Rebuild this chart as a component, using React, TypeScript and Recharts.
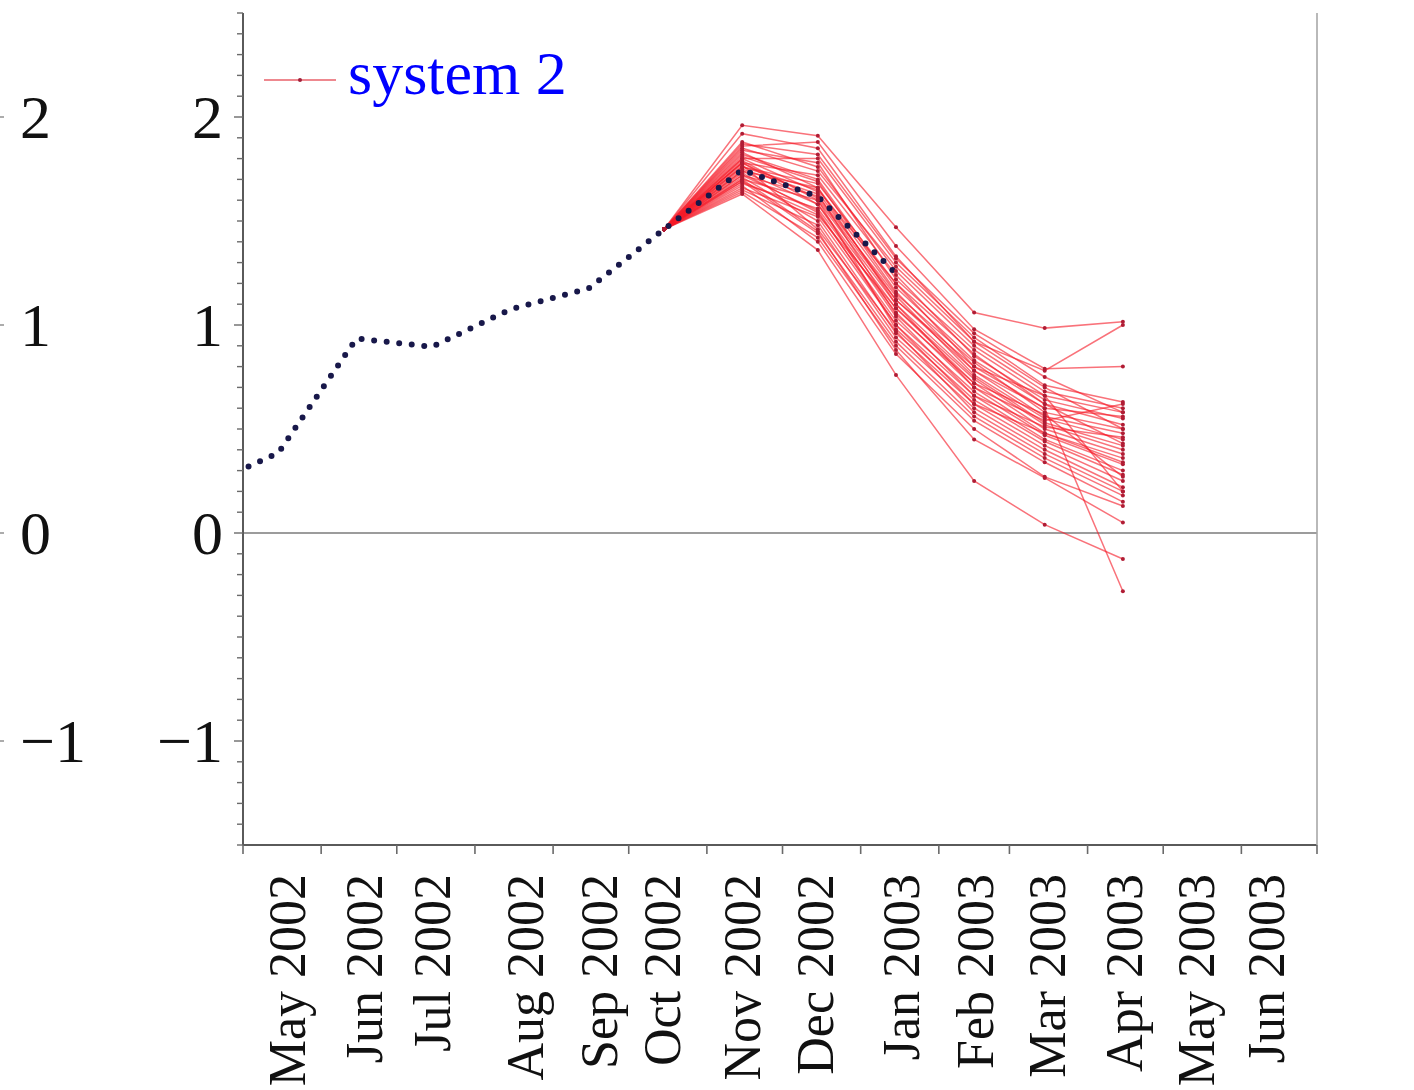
import React from 'react';
import { LineChart, Line, XAxis, YAxis, ReferenceLine, Legend } from 'recharts';

// Time axis: days counted from 1 May 2002
const monthStartDays = [0, 31, 61, 92, 123, 153, 184, 214, 245, 276, 304, 335, 365, 396, 426];
const monthLabels = [
  'May 2002', 'Jun 2002', 'Jul 2002', 'Aug 2002', 'Sep 2002', 'Oct 2002', 'Nov 2002',
  'Dec 2002', 'Jan 2003', 'Feb 2003', 'Mar 2003', 'Apr 2003', 'May 2003', 'Jun 2003',
];
const monthLabelDays = [17.5, 48, 75, 112, 141.5, 166.5, 198, 227, 261, 290.5, 319, 349.5, 378, 406];

// Observed index (mid-month values)
const obsDays = [-16, 14, 45, 75, 106, 137, 167, 198, 228, 259];
const obsValues = [0.22, 0.385, 0.935, 0.895, 1.075, 1.175, 1.46, 1.745, 1.617, 1.248];

// Ensemble forecasts issued from the October value: Nov, Dec, Jan, Feb, Mar, Apr
const forecastStartDay = 167;
const forecastStartValue = 1.46;
const forecastDays = [198, 228, 259, 290, 318, 349];
const members: number[][] = [
  [1.96, 1.91, 1.47, 1.06, 0.985, 1.016],
  [1.86, 1.88, 1.38, 0.98, 0.79, 0.8],
  [1.92, 1.85, 1.33, 0.92, 0.78, 1.0],
  [1.8, 1.8, 1.3, 0.94, 0.71, 0.63],
  [1.88, 1.76, 1.26, 0.9, 0.68, 0.6],
  [1.84, 1.78, 1.22, 0.88, 0.66, 0.58],
  [1.78, 1.72, 1.24, 0.85, 0.64, 0.55],
  [1.82, 1.7, 1.18, 0.83, 0.62, 0.52],
  [1.76, 1.68, 1.2, 0.8, 0.6, -0.28],
  [1.74, 1.66, 1.15, 0.82, 0.58, 0.5],
  [1.8, 1.64, 1.12, 0.78, 0.56, 0.48],
  [1.72, 1.62, 1.14, 0.76, 0.55, 0.45],
  [1.7, 1.6, 1.1, 0.75, 0.53, 0.42],
  [1.78, 1.58, 1.08, 0.74, 0.52, 0.4],
  [1.75, 1.63, 1.05, 0.72, 0.5, 0.38],
  [1.68, 1.56, 1.06, 0.7, 0.48, 0.36],
  [1.73, 1.54, 1.02, 0.68, 0.47, 0.33],
  [1.66, 1.52, 1.0, 0.66, 0.45, 0.3],
  [1.79, 1.6, 0.98, 0.64, 0.44, 0.28],
  [1.71, 1.5, 0.96, 0.62, 0.42, 0.25],
  [1.65, 1.48, 0.94, 0.6, 0.4, 0.22],
  [1.77, 1.46, 0.97, 0.58, 0.38, 0.2],
  [1.69, 1.44, 0.92, 0.56, 0.36, 0.18],
  [1.64, 1.42, 0.9, 0.54, 0.34, 0.15],
  [1.83, 1.66, 1.1, 0.7, 0.54, 0.62],
  [1.81, 1.69, 1.16, 0.78, 0.6, 0.56],
  [1.74, 1.58, 1.04, 0.66, 0.51, 0.46],
  [1.67, 1.4, 0.86, 0.5, 0.27, 0.13],
  [1.63, 1.36, 0.76, 0.25, 0.04, -0.125],
  [1.7, 1.45, 0.88, 0.45, 0.265, 0.05],
  [1.85, 1.74, 1.28, 0.92, 0.7, 0.5],
  [1.76, 1.65, 1.2, 0.86, 0.62, 0.43],
  [1.72, 1.55, 1.0, 0.62, 0.48, 0.34],
  [1.87, 1.82, 1.32, 0.96, 0.75, 0.58],
  [1.69, 1.53, 1.08, 0.72, 0.57, 0.27],
  [1.78, 1.61, 1.12, 0.8, 0.66, 0.2],
];

const majorYTicks = [-1, 0, 1, 2];
const yDomain: [number, number] = [-1.5, 2.5];
const minorYTicks = Array.from({ length: 41 }, (_, i) => Math.round((-1.5 + i * 0.1) * 10) / 10);

const SERIF = '"Liberation Serif", "Times New Roman", serif';

const obsRows = obsDays.map((day, i) => ({ day, value: obsValues[i] }));
const memberRows = members.map((vals) => [
  { day: forecastStartDay, value: forecastStartValue },
  ...forecastDays.map((day, i) => ({ day, value: vals[i] })),
]);

const fmtY = (v: number) => (v < 0 ? `\u2212${Math.abs(v)}` : `${v}`);
const isMajor = (v: number) => majorYTicks.some((m) => Math.abs(m - v) < 1e-6);

const LeftTick = (props: any) => {
  const { x, y, payload } = props;
  const v = payload.value as number;
  const major = isMajor(v);
  return (
    <g>
      <line x1={x} x2={x - (major ? 9 : 6)} y1={y} y2={y} stroke="#6a6a6a" strokeWidth={1.4} />
      {major && (
        <>
          <text x={x - 20} y={y} dy="0.34em" textAnchor="end" fontFamily={SERIF} fontSize={62} fill="#111">
            {fmtY(v)}
          </text>
          <text x={20} y={y} dy="0.34em" textAnchor="start" fontFamily={SERIF} fontSize={62} fill="#111">
            {fmtY(v)}
          </text>
          <line x1={0} x2={4} y1={y} y2={y} stroke="#888" strokeWidth={1.4} />
        </>
      )}
    </g>
  );
};

const RightTick = (props: any) => {
  const { x, y, payload } = props;
  const v = payload.value as number;
  const major = isMajor(v);
  return (
    <g>
      <line x1={x} x2={x + (major ? 9 : 6)} y1={y} y2={y} stroke="#6a6a6a" strokeWidth={1.4} />
      {major && (
        <text x={x + 26} y={y} dy="0.34em" textAnchor="start" fontFamily={SERIF} fontSize={62} fill="#111">
          {fmtY(v)}
        </text>
      )}
    </g>
  );
};

const bottomTicks = [...monthStartDays, ...monthLabelDays].sort((a, b) => a - b);

const BottomTick = (props: any) => {
  const { x, y, payload } = props;
  const v = payload.value as number;
  const labelIndex = monthLabelDays.indexOf(v);
  if (labelIndex >= 0) {
    const ty = y + 29;
    return (
      <text
        x={x}
        y={ty}
        dy="0.34em"
        textAnchor="end"
        transform={`rotate(-90, ${x}, ${ty})`}
        fontFamily={SERIF}
        fontSize={52}
        fill="#111"
      >
        {monthLabels[labelIndex]}
      </text>
    );
  }
  return <line x1={x} x2={x} y1={y} y2={y + 9} stroke="#6a6a6a" strokeWidth={1.6} />;
};

const LegendContent = () => (
  <div style={{ display: 'flex', alignItems: 'center', fontFamily: SERIF, fontSize: 62, color: '#0000ff', lineHeight: 1 }}>
    <svg width={74} height={12} style={{ display: 'block', marginTop: 14 }}>
      <line x1={0} x2={72} y1={6} y2={6} stroke="#e8606a" strokeWidth={1.4} />
      <circle cx={36} cy={6} r={2} fill="#a0203a" />
    </svg>
    <span style={{ marginLeft: 10 }}>system 2</span>
  </div>
);

export default function App() {
  return (
    <div style={{ position: 'absolute', left: 0, top: 0, background: '#fff' }}>
      <LineChart width={1414} height={1090} margin={{ top: 13, right: 0, bottom: 0, left: 0 }}>
        <XAxis
          xAxisId="time"
          type="number"
          dataKey="day"
          domain={[0, 426]}
          allowDataOverflow
          ticks={bottomTicks}
          interval={0}
          height={245}
          tickSize={0}
          tickMargin={0}
          tickLine={false}
          tick={<BottomTick />}
          axisLine={{ stroke: '#5a5a5a', strokeWidth: 2 }}
        />
        <XAxis
          xAxisId="top"
          orientation="top"
          type="number"
          dataKey="day"
          domain={[0, 426]}
          height={0}
          tick={false}
          tickLine={false}
          axisLine={{ stroke: '#a8a8a8', strokeWidth: 1.6 }}
        />
        <YAxis
          yAxisId="value"
          type="number"
          domain={yDomain}
          allowDataOverflow
          ticks={minorYTicks}
          interval={0}
          width={243}
          tickSize={0}
          tickMargin={0}
          tickLine={false}
          tick={<LeftTick />}
          axisLine={{ stroke: '#5a5a5a', strokeWidth: 2 }}
        />
        <YAxis
          yAxisId="right"
          orientation="right"
          type="number"
          domain={yDomain}
          ticks={minorYTicks}
          interval={0}
          width={97}
          tickSize={0}
          tickMargin={0}
          tickLine={false}
          tick={<RightTick />}
          axisLine={{ stroke: '#a8a8a8', strokeWidth: 1.6 }}
        />
        <ReferenceLine xAxisId="time" yAxisId="value" y={0} stroke="#9c9c9c" strokeWidth={2} />
        {memberRows.map((rows, i) => (
          <Line
            key={`m${i}`}
            xAxisId="time"
            yAxisId="value"
            data={rows}
            dataKey="value"
            type="linear"
            stroke="#f51c28"
            strokeOpacity={0.62}
            strokeWidth={1.5}
            dot={{ r: 2, fill: '#b01c34', stroke: 'none' }}
            isAnimationActive={false}
            legendType="none"
          />
        ))}
        <Line
          xAxisId="time"
          yAxisId="value"
          data={obsRows}
          dataKey="value"
          type="linear"
          stroke="#18184a"
          strokeWidth={6}
          strokeDasharray="0 12.6"
          strokeLinecap="round"
          dot={false}
          isAnimationActive={false}
          legendType="none"
        />
        <Legend
          layout="vertical"
          align="center"
          verticalAlign="middle"
          content={<LegendContent />}
          wrapperStyle={{ left: 264, top: 42, width: 'auto' }}
        />
      </LineChart>
    </div>
  );
}
